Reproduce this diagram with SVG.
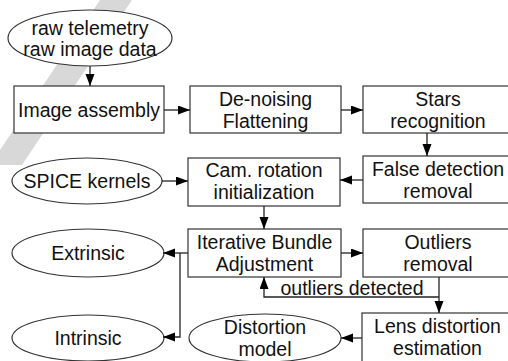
<svg xmlns="http://www.w3.org/2000/svg" width="508" height="361" viewBox="0 0 508 361">
<defs>
<marker id="ah" markerUnits="userSpaceOnUse" markerWidth="13" markerHeight="10" refX="12" refY="4.5" orient="auto">
<path d="M0,0 L12,4.5 L0,9 z" fill="#000"/>
</marker>
<style>
.n{fill:#fff;stroke:#333;stroke-width:1.2}
.t{font-family:"Liberation Sans",Arial,sans-serif;font-size:19.5px;fill:#111;text-anchor:middle}
.c{fill:none;stroke:#222;stroke-width:1.3}
.a{marker-end:url(#ah)}
</style>
</defs>
<rect width="508" height="361" fill="#fff"/>
<polygon points="100,0 132,0 22,165 0,165 0,150" fill="#d8d8d8"/>
<g id="raw"><ellipse class="n" cx="90" cy="38" rx="82" ry="28"/><text class="t" x="90" y="35">raw telemetry</text><text class="t" x="90" y="56">raw image data</text></g>
<g id="assembly"><rect class="n" x="14" y="86" width="150" height="47"/><text class="t" x="89" y="117">Image assembly</text></g>
<g id="denoise"><rect class="n" x="190" y="86" width="151" height="47"/><text class="t" x="265.5" y="106">De-noising</text><text class="t" x="265.5" y="128">Flattening</text></g>
<g id="stars"><rect class="n" x="363" y="86" width="150" height="47"/><text class="t" x="438" y="106">Stars</text><text class="t" x="438" y="128">recognition</text></g>
<g id="spice"><ellipse class="n" cx="87" cy="181" rx="75" ry="23"/><text class="t" x="87" y="188">SPICE kernels</text></g>
<g id="camrot"><rect class="n" x="188" y="158" width="152" height="48"/><text class="t" x="264" y="177">Cam. rotation</text><text class="t" x="264" y="199">initialization</text></g>
<g id="false"><rect class="n" x="363" y="156" width="150" height="47"/><text class="t" x="438" y="176">False detection</text><text class="t" x="438" y="198">removal</text></g>
<g id="extrinsic"><ellipse class="n" cx="88" cy="253" rx="76" ry="24"/><text class="t" x="88" y="260">Extrinsic</text></g>
<g id="iba"><rect class="n" x="188" y="229" width="153" height="48"/><text class="t" x="264.5" y="249">Iterative Bundle</text><text class="t" x="264.5" y="271">Adjustment</text></g>
<g id="outliers"><rect class="n" x="363" y="229" width="150" height="48"/><text class="t" x="438" y="249">Outliers</text><text class="t" x="438" y="271">removal</text></g>
<g id="intrinsic"><ellipse class="n" cx="88" cy="338" rx="76" ry="23"/><text class="t" x="88" y="345">Intrinsic</text></g>
<g id="distortion"><ellipse class="n" cx="265" cy="338" rx="76" ry="24"/><text class="t" x="265" y="334">Distortion</text><text class="t" x="265" y="356">model</text></g>
<g id="lens"><rect class="n" x="362" y="313" width="151" height="60"/><text class="t" x="437.5" y="333">Lens distortion</text><text class="t" x="437.5" y="355">estimation</text></g>
<g id="connectors">
<path class="c a" d="M90,66 L90,86"/>
<path class="c a" d="M164,110 L190,110"/>
<path class="c a" d="M341,110 L363,110"/>
<path class="c a" d="M427,133 L427,156"/>
<path class="c a" d="M363,180 L340,180"/>
<path class="c a" d="M162,181 L188,181"/>
<path class="c a" d="M264,206 L264,229"/>
<path class="c a" d="M341,253 L363,253"/>
<path class="c a" d="M188,253 L163,253"/>
<path class="c a" d="M180,253 L180,337 L163,337"/>
<path class="c a" d="M439,277 L439,313"/>
<path class="c a" d="M439,297 L264,297 L264,277"/>
<path class="c a" d="M362,338 L341,338"/>
<text class="t" x="352" y="295">outliers detected</text>
</g>
</svg>
